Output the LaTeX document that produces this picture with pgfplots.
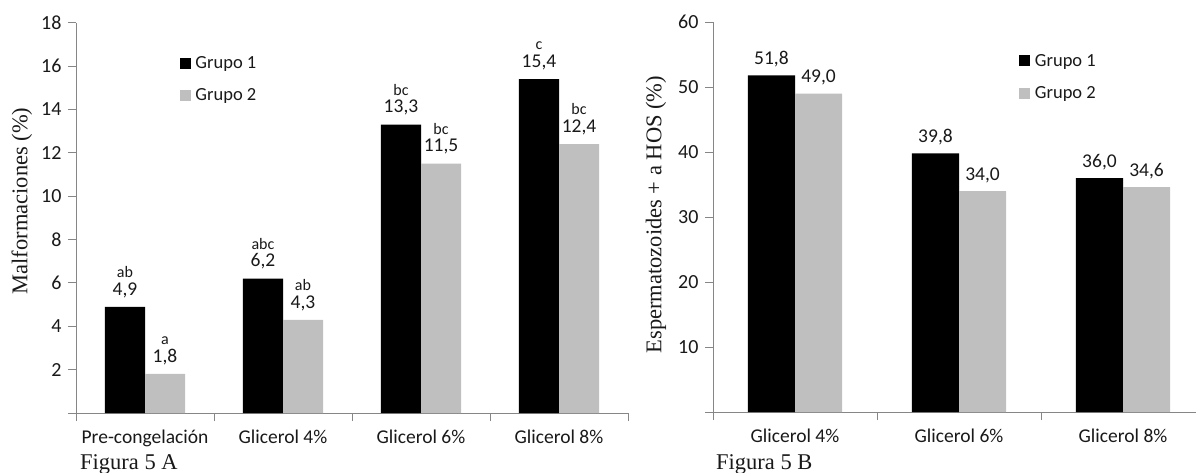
\documentclass[border=0pt]{standalone}
\usepackage{pgfplots}
\usepackage{pgfplotstable}
\pgfplotsset{compat=1.18}
\usepackage{fontspec}
\setmainfont{Liberation Serif}
\newfontfamily\calfont{Carlito}
\definecolor{axgray}{RGB}{134,134,134}
\definecolor{bargray}{RGB}{191,191,191}
\definecolor{txt}{RGB}{25,25,25}
\newcommand{\legfont}{\calfont\fontsize{18.5}{21}\selectfont}

\pgfplotstableread{
x g1 g2 l1 l2 v1 v2
0 4.9 1.8 ab a 4,9 1,8
1 6.2 4.3 abc ab 6,2 4,3
2 13.3 11.5 bc bc 13,3 11,5
3 15.4 12.4 c bc 15,4 12,4
}\dataA

\pgfplotstableread{
x g1 g2 v1 v2
0 51.8 49.0 51,8 49,0
1 39.8 34.0 39,8 34,0
2 36.0 34.6 36,0 34,6
}\dataB

\pgfplotsset{
  common/.style={
    scale only axis,
    anchor=south west,
    clip=false,
    axis x line*=bottom,
    axis y line*=left,
    axis line style={draw=axgray, line width=0.9pt},
    tick align=outside,
    every tick/.style={draw=axgray, line width=0.9pt},
    major tick length=8pt,
    /pgf/number format/assume math mode=true,
    xticklabel style={font=\calfont\fontsize{19.5}{22}\selectfont, text=txt, yshift=-5pt},
    yticklabel style={font=\calfont\fontsize{20}{22}\selectfont, text=txt, xshift=-3pt},
    xticklabels={,,,,,},
    extra x tick style={tick style={draw=none}},
    ymin=0,
    every axis y label/.style={rotate=90, anchor=center, font=\fontsize{22.5}{26}\selectfont, text=txt},
    legend style={draw=none, fill=none, anchor=north west, inner sep=0pt,
      font=\legfont, text=txt, row sep=16pt, column sep=3pt,
      nodes={inner sep=1.5pt, font=\legfont}},
    legend cell align=left,
    every node near coord/.append style={font=\calfont\fontsize{19.5}{22}\selectfont, text=txt, inner sep=0pt},
  },
}

\begin{document}
\begin{tikzpicture}
\path[use as bounding box] (0pt,0pt) rectangle (1196pt,472pt);

% ---------------- Figura 5 A ----------------
\begin{axis}[common,
  at={(76pt,59pt)}, width=552pt, height=390.3pt,
  xmin=-0.5, xmax=3.5, ymax=18,
  xtick={-0.5,0.5,1.5,2.5,3.5},
  extra x ticks={0,1,2,3},
  extra x tick labels={Pre-congelación, Glicerol 4\%, Glicerol 6\%, Glicerol 8\%},
  ytick={0,2,4,6,8,10,12,14,16,18},
  yticklabels={,2,4,6,8,10,12,14,16,18},
  ylabel={Malformaciones (\%)},
  every axis y label/.append style={at={(axis description cs:-0.098,0.543)}},
  legend style={at={(rel axis cs:0.188,0.918)}},
]
\addplot[ybar, fill=black, draw=none, bar width=0.29, bar shift=0pt,
  legend image code/.code={\fill[black] (0pt,-5.5pt) rectangle (11pt,5.5pt);},
  point meta=explicit symbolic, nodes near coords,
  every node near coord/.append style={yshift=9pt}]
  table[x expr=\thisrow{x}-0.145, y=g1, meta=v1]{\dataA};
\addlegendentry{\legfont Grupo 1}
\addplot[ybar, fill=bargray, draw=none, bar width=0.29, bar shift=0pt,
  legend image code/.code={\fill[bargray] (0pt,-5.5pt) rectangle (11pt,5.5pt);},
  point meta=explicit symbolic, nodes near coords,
  every node near coord/.append style={yshift=9pt}]
  table[x expr=\thisrow{x}+0.145, y=g2, meta=v2]{\dataA};
\addlegendentry{\legfont Grupo 2}
\addplot[ybar, fill=none, draw=none, bar width=0.29, bar shift=0pt, forget plot,
  point meta=explicit symbolic, nodes near coords,
  every node near coord/.append style={yshift=29pt, font=\calfont\fontsize{16}{18}\selectfont}]
  table[x expr=\thisrow{x}-0.145, y=g1, meta=l1]{\dataA};
\addplot[ybar, fill=none, draw=none, bar width=0.29, bar shift=0pt, forget plot,
  point meta=explicit symbolic, nodes near coords,
  every node near coord/.append style={yshift=29pt, font=\calfont\fontsize{16}{18}\selectfont}]
  table[x expr=\thisrow{x}+0.145, y=g2, meta=l2]{\dataA};
\end{axis}

% ---------------- Figura 5 B ----------------
\begin{axis}[common,
  at={(713pt,60pt)}, width=483pt, height=390pt,
  xmin=-0.5, xmax=2.445, ymax=60,
  xtick={-0.5,0.5,1.5},
  extra x ticks={0,1,2},
  extra x tick labels={Glicerol 4\%, Glicerol 6\%, Glicerol 8\%},
  ytick={0,10,20,30,40,50,60},
  yticklabels={,10,20,30,40,50,60},
  ylabel={Espermatozoides + a HOS (\%)},
  every axis y label/.append style={at={(axis description cs:-0.118,0.506)}},
  legend style={at={(rel axis cs:0.634,0.922)}},
]
\addplot[ybar, fill=black, draw=none, bar width=0.287, bar shift=0pt,
  legend image code/.code={\fill[black] (0pt,-5.5pt) rectangle (11pt,5.5pt);},
  point meta=explicit symbolic, nodes near coords,
  every node near coord/.append style={yshift=8pt}]
  table[x expr=\thisrow{x}-0.1435, y=g1, meta=v1]{\dataB};
\addlegendentry{\legfont Grupo 1}
\addplot[ybar, fill=bargray, draw=none, bar width=0.287, bar shift=0pt,
  legend image code/.code={\fill[bargray] (0pt,-5.5pt) rectangle (11pt,5.5pt);},
  point meta=explicit symbolic, nodes near coords,
  every node near coord/.append style={yshift=8pt}]
  table[x expr=\thisrow{x}+0.1435, y=g2, meta=v2]{\dataB};
\addlegendentry{\legfont Grupo 2}
\end{axis}

\node[anchor=base west, inner sep=0pt, font=\fontsize{22.5}{26}\selectfont, text=txt] at (80pt,3pt) {Figura 5 A};
\node[anchor=base west, inner sep=0pt, font=\fontsize{22.5}{26}\selectfont, text=txt] at (716pt,3pt) {Figura 5 B};
\end{tikzpicture}
\end{document}
